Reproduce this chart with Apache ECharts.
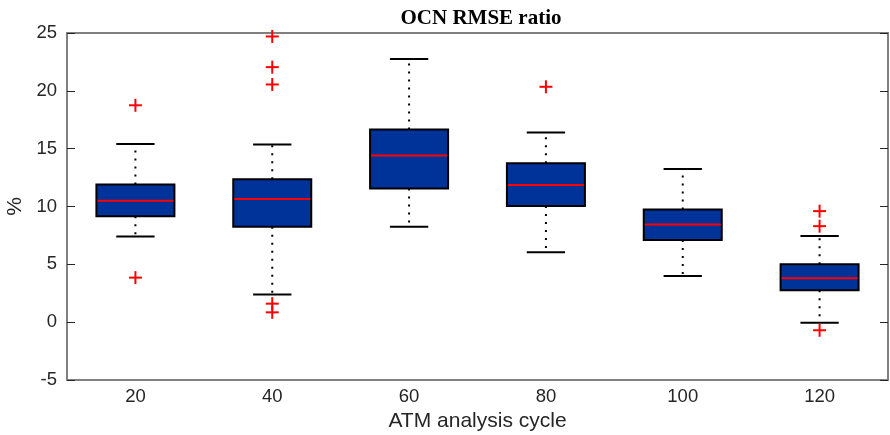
<!DOCTYPE html>
<html>
<head>
<meta charset="utf-8">
<script src="https://cdn.jsdelivr.net/npm/echarts@6/dist/echarts.min.js"></script>
<style>
  html, body { margin: 0; padding: 0; background: #fff; }
  #chart { width: 890px; height: 435px; }
</style>
</head>
<body>
<div id="chart"></div>
<script>
// ATM analysis cycle categories
const categories = ['20', '40', '60', '80', '100', '120']
// box statistics (%)
const lowerWhisker = [7.4, 2.4, 8.25, 6.05, 4.0, -0.05]
const q1 = [9.15, 8.25, 11.55, 10.05, 7.1, 2.75]
const median = [10.5, 10.65, 14.4, 11.85, 8.45, 3.8]
const q3 = [11.9, 12.35, 16.65, 13.75, 9.75, 5.0]
const upperWhisker = [15.4, 15.35, 22.75, 16.4, 13.25, 7.45]
// outliers: category index + value
const outlierCat = [0, 0, 1, 1, 1, 1, 1, 3, 5, 5, 5]
const outlierVal = [18.75, 3.85, 24.7, 22.05, 20.55, 1.6, 0.85, 20.35, 9.6, 8.3, -0.7]
const yTicks = [-5, 0, 5, 10, 15, 20, 25]

const BOX = '#003399'
const MED = '#ff0000'
const AXIS = '#808080'

const boxData = categories.map((c, i) => [i, lowerWhisker[i], q1[i], median[i], q3[i], upperWhisker[i]])
const outData = outlierCat.map((c, i) => [c, outlierVal[i]])

function renderBox(params, api) {
  const x = api.value(0)
  const band = api.size([1, 0])[0]
  const half = band * 0.285
  const capHalf = band * 0.14
  const pLo = api.coord([x, api.value(1)])
  const pQ1 = api.coord([x, api.value(2)])
  const pMed = api.coord([x, api.value(3)])
  const pQ3 = api.coord([x, api.value(4)])
  const pHi = api.coord([x, api.value(5)])
  const cx = pMed[0]
  const dotted = { stroke: '#000', lineWidth: 2, lineDash: [2, 6] }
  const solid = { stroke: '#000', lineWidth: 2 }
  return {
    type: 'group',
    children: [
      { type: 'line', shape: { x1: cx, y1: pQ3[1], x2: cx, y2: pHi[1] }, style: dotted },
      { type: 'line', shape: { x1: cx, y1: pQ1[1], x2: cx, y2: pLo[1] }, style: dotted },
      { type: 'line', shape: { x1: cx - capHalf, y1: pHi[1], x2: cx + capHalf, y2: pHi[1] }, style: solid },
      { type: 'line', shape: { x1: cx - capHalf, y1: pLo[1], x2: cx + capHalf, y2: pLo[1] }, style: solid },
      {
        type: 'rect',
        shape: { x: cx - half, y: pQ3[1], width: half * 2, height: pQ1[1] - pQ3[1] },
        style: { fill: BOX, stroke: '#000', lineWidth: 2 }
      },
      { type: 'line', shape: { x1: cx - half + 1, y1: pMed[1], x2: cx + half - 1, y2: pMed[1] }, style: { stroke: MED, lineWidth: 2 } }
    ]
  }
}

function renderPlus(params, api) {
  const p = api.coord([api.value(0), api.value(1)])
  const s = 6.5
  const st = { stroke: MED, lineWidth: 2 }
  return {
    type: 'group',
    children: [
      { type: 'line', shape: { x1: p[0] - s, y1: p[1], x2: p[0] + s, y2: p[1] }, style: st },
      { type: 'line', shape: { x1: p[0], y1: p[1] - s, x2: p[0], y2: p[1] + s }, style: st }
    ]
  }
}

const font = 'Liberation Sans, Arial, sans-serif'

const option = {
  animation: false,
  backgroundColor: '#fff',
  title: {
    text: 'OCN RMSE ratio',
    left: 476,
    textAlign: 'center',
    top: 3,
    textStyle: { fontFamily: 'Liberation Serif, serif', fontWeight: 'bold', fontSize: 21, color: '#000' }
  },
  grid: { left: 67, right: 2, top: 33, bottom: 55, outerBoundsMode: 'none' },
  xAxis: [
    {
      type: 'category',
      data: categories,
      boundaryGap: true,
      name: 'ATM analysis cycle',
      nameLocation: 'middle',
      nameGap: 30,
      nameTextStyle: { fontFamily: font, fontSize: 21, color: '#262626' },
      axisLine: { onZero: false, lineStyle: { color: AXIS, width: 2 } },
      axisTick: { alignWithLabel: true, inside: true, length: 8, lineStyle: { color: '#262626' } },
      axisLabel: { fontFamily: font, fontSize: 18.5, color: '#262626', margin: 7 },
      splitLine: { show: false }
    },
    {
      type: 'category',
      data: categories,
      position: 'top',
      boundaryGap: true,
      axisLine: { onZero: false, lineStyle: { color: AXIS, width: 2 } },
      axisTick: { alignWithLabel: true, inside: true, length: 8, lineStyle: { color: '#262626' } },
      axisLabel: { show: false },
      splitLine: { show: false }
    }
  ],
  yAxis: [
    {
      type: 'value',
      min: yTicks[0],
      max: yTicks[yTicks.length - 1],
      interval: 5,
      name: '%',
      nameLocation: 'middle',
      nameGap: 38,
      nameTextStyle: { fontFamily: font, fontSize: 21, color: '#262626' },
      axisLine: { show: true, onZero: false, lineStyle: { color: AXIS, width: 2 } },
      axisTick: { show: true, inside: true, length: 8, lineStyle: { color: '#262626' } },
      axisLabel: { fontFamily: font, fontSize: 18.5, color: '#262626', margin: 10 },
      splitLine: { show: false }
    },
    {
      type: 'value',
      position: 'right',
      min: yTicks[0],
      max: yTicks[yTicks.length - 1],
      interval: 5,
      axisLine: { show: true, onZero: false, lineStyle: { color: AXIS, width: 2 } },
      axisTick: { show: true, inside: true, length: 8, lineStyle: { color: '#262626' } },
      axisLabel: { show: false },
      splitLine: { show: false }
    }
  ],
  series: [
    {
      type: 'custom',
      name: 'box',
      renderItem: renderBox,
      encode: { x: 0, y: [1, 2, 3, 4, 5] },
      data: boxData,
      clip: false,
      z: 3
    },
    {
      type: 'custom',
      name: 'outliers',
      renderItem: renderPlus,
      encode: { x: 0, y: 1 },
      data: outData,
      clip: false,
      z: 4
    }
  ]
}

const chart = echarts.init(document.getElementById('chart'))
chart.setOption(option)
</script>
</body>
</html>
